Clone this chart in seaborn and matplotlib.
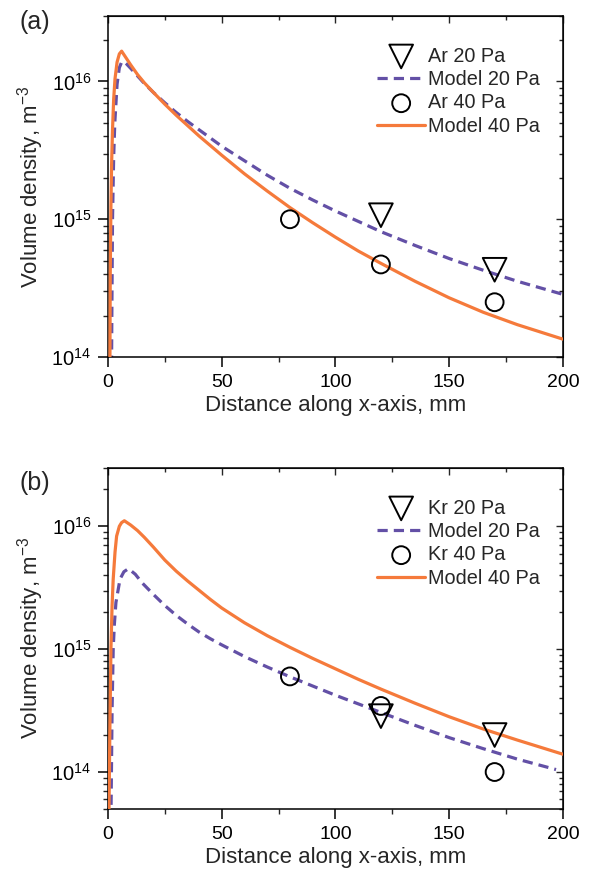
import numpy as np
import matplotlib
matplotlib.use("Agg")
import matplotlib.pyplot as plt
import seaborn as sns

sns.set_style("ticks")
plt.rcParams["font.family"] = ["Liberation Sans", "DejaVu Sans"]
plt.rcParams["mathtext.fontset"] = "custom"
plt.rcParams["mathtext.rm"] = "Liberation Sans"
plt.rcParams["mathtext.it"] = "Liberation Sans:italic"

# measured points, panel (a) Ar
ar_x = [80, 120, 170]
ar20_x = [120, 170]
ar20_y = [1.07e15, 4.3e14]
ar40_y = [1.0e15, 4.7e14, 2.5e14]

# model curves, panel (a)  (log10 of density)
ma20_x = [1.5, 1.7, 2.0, 2.5, 3, 4, 5, 6, 7, 8, 10, 13, 16, 20, 25, 30, 35, 40, 45, 50,
          60, 70, 80, 90, 100, 110, 120, 135, 150, 165, 180, 200]
ma20_log = [13.7, 14.3, 15.0, 15.45, 15.7, 15.98, 16.1, 16.14, 16.145, 16.13, 16.095,
            16.04, 15.985, 15.92, 15.845, 15.775, 15.71, 15.65, 15.59, 15.53,
            15.425, 15.32, 15.225, 15.14, 15.06, 14.985, 14.91, 14.81, 14.715, 14.63,
            14.55, 14.455]
ma40_x = [0.8, 1.0, 1.3, 1.6, 2.0, 2.5, 3.1, 4, 5, 6, 8, 10, 13, 16, 20, 25, 30, 35, 40,
          45, 50, 60, 70, 80, 90, 100, 110, 120, 135, 150, 165, 180, 200]
ma40_log = [13.7, 14.6, 15.1, 15.4, 15.65, 15.87, 16.02, 16.14, 16.2, 16.22, 16.17,
            16.12, 16.05, 15.99, 15.92, 15.835, 15.755, 15.68, 15.605, 15.535, 15.465,
            15.33, 15.205, 15.085, 14.975, 14.87, 14.77, 14.68, 14.55, 14.43, 14.325,
            14.235, 14.13]

# measured points, panel (b) Kr
kr_x = [80, 120, 170]
kr20_x = [120, 170]
kr20_y = [2.85e14, 2.0e14]
kr40_y = [6.0e14, 3.45e14, 1.0e14]

# model curves, panel (b)  (log10 of density)
mb20_x = [1.3, 1.8, 2.3, 2.8, 3.5, 5.3, 7, 9, 12, 15, 20, 25, 30, 35, 40, 45, 50, 60,
          70, 80, 90, 100, 110, 120, 135, 150, 165, 180, 197]
mb20_log = [13.6, 14.5, 15.0, 15.2, 15.38, 15.57, 15.63, 15.655, 15.61, 15.54, 15.445,
            15.355, 15.275, 15.205, 15.14, 15.085, 15.035, 14.94, 14.855, 14.775,
            14.70, 14.625, 14.555, 14.485, 14.38, 14.28, 14.19, 14.105, 14.02]
mb40_x = [0.4, 0.8, 1.3, 1.8, 2.3, 3.1, 3.8, 5, 6, 7.2, 8, 10, 13, 16, 20, 25, 30, 35,
          40, 45, 50, 60, 70, 80, 90, 100, 110, 120, 135, 150, 165, 180, 200]
mb40_log = [13.6, 14.3, 15.0, 15.35, 15.57, 15.79, 15.92, 16.0, 16.03, 16.045, 16.035,
            16.01, 15.965, 15.91, 15.83, 15.725, 15.635, 15.555, 15.48, 15.405,
            15.335, 15.215, 15.11, 15.015, 14.925, 14.84, 14.755, 14.675, 14.56, 14.45,
            14.35, 14.26, 14.145]

purple = "#6350a6"
orange = "#f57a3b"

fig = plt.figure(figsize=(5.9, 8.73), dpi=100)
ax_a = fig.add_axes([0.183, 0.591, 0.771, 0.391])
ax_b = fig.add_axes([0.183, 0.0733, 0.771, 0.391])

panels = [
    (ax_a, "Ar", ar20_x, ar20_y, ar_x, ar40_y, ma20_x, ma20_log, ma40_x, ma40_log, (1e14, 3e16)),
    (ax_b, "Kr", kr20_x, kr20_y, kr_x, kr40_y, mb20_x, mb20_log, mb40_x, mb40_log, (5e13, 3e16)),
]

for ax, gas, p20x, p20y, p40x, p40y, m20x, m20log, m40x, m40log, ylim in panels:
    sns.scatterplot(x=p20x, y=p20y, ax=ax, marker="v", s=290, facecolor="none",
                    edgecolor="black", linewidth=1.4, label=f"{gas} 20 Pa", zorder=4)
    sns.lineplot(x=m20x, y=10 ** np.array(m20log), ax=ax, color=purple, lw=2.3,
                 dashes=(3.2, 1.9), label="Model 20 Pa", zorder=2)
    sns.scatterplot(x=p40x, y=p40y, ax=ax, marker="o", s=165, facecolor="none",
                    edgecolor="black", linewidth=1.4, label=f"{gas} 40 Pa", zorder=4)
    sns.lineplot(x=m40x, y=10 ** np.array(m40log), ax=ax, color=orange, lw=2.3,
                 label="Model 40 Pa", zorder=3)

    ax.set_yscale("log")
    ax.set_xlim(0, 200)
    ax.set_ylim(*ylim)
    ax.set_xticks([0, 50, 100, 150, 200])
    ax.set_xticks([25, 75, 125, 175], minor=True)
    ax.tick_params(which="major", direction="out", length=7, width=1.1, labelsize=14,
                   colors="black", pad=5)
    ax.tick_params(axis="y", which="major", labelsize=14.5)
    ax.tick_params(which="minor", direction="out", length=3.5, width=1.0)
    for sp in ax.spines.values():
        sp.set_visible(True)
        sp.set_linewidth(1.1)
        sp.set_color("black")

    top = ax.secondary_xaxis("top")
    top.set_xticks([0, 50, 100, 150, 200])
    top.set_xticks([25, 75, 125, 175], minor=True)
    top.tick_params(which="both", direction="in", labeltop=False, width=1.0)
    top.tick_params(which="major", length=5)
    top.tick_params(which="minor", length=3)
    right = ax.secondary_yaxis("right")
    right.tick_params(which="both", direction="in", labelright=False, width=1.0)
    right.tick_params(which="major", length=5)
    right.tick_params(which="minor", length=3)

    ax.set_xlabel("Distance along x-axis, mm", fontsize=16, labelpad=3)
    ax.set_ylabel("Volume density, m$^{-3}$", fontsize=16, labelpad=4)

    ax.legend(loc="upper right", bbox_to_anchor=(0.98, 0.95), frameon=False,
              fontsize=14.3, handlelength=2.4, handletextpad=0.15,
              labelspacing=0.22, borderpad=0.2)

fig.text(0.033, 0.975, "(a)", fontsize=18, va="center", ha="left")
fig.text(0.033, 0.447, "(b)", fontsize=18, va="center", ha="left")

fig.savefig("out.png", dpi=100)
